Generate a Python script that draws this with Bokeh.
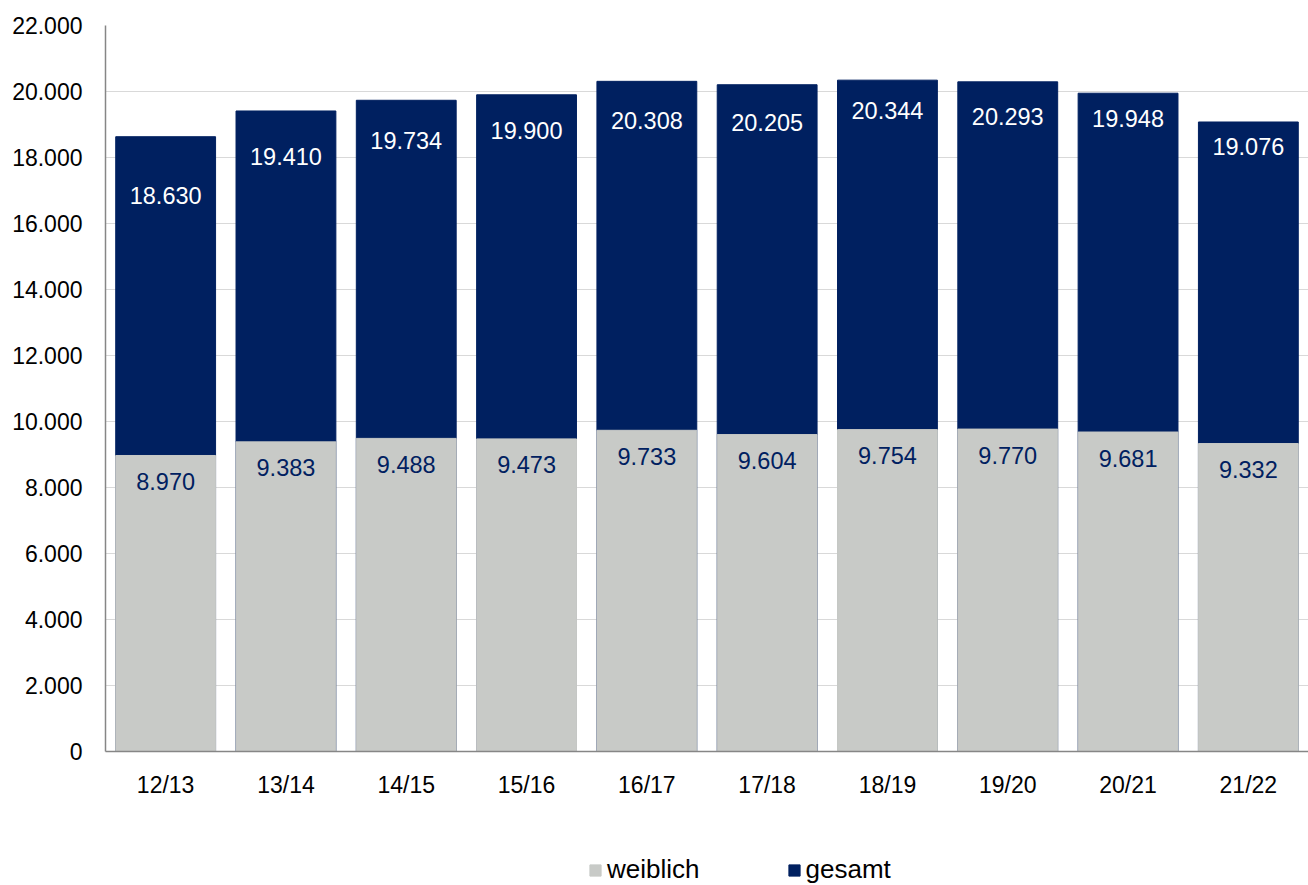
from bokeh.plotting import figure
from bokeh.models import ColumnDataSource, FactorRange, Legend, LegendItem, FixedTicker, Range1d
from bokeh.layouts import column
from bokeh.core.properties import value
from bokeh.embed import file_html
from bokeh.resources import INLINE

# --- data ---
years = ["12/13", "13/14", "14/15", "15/16", "16/17", "17/18", "18/19", "19/20", "20/21", "21/22"]
gesamt = [18630, 19410, 19734, 19900, 20308, 20205, 20344, 20293, 19948, 19076]
weiblich = [8970, 9383, 9488, 9473, 9733, 9604, 9754, 9770, 9681, 9332]
series_names = ["weiblich", "gesamt"]
y_ticks = list(range(0, 22001, 2000))

# --- styling ---
NAVY = "#002060"
GREY = "#C8CAC7"
FONT = "Liberation Sans"
gesamt_label_dy = [59, 46, 40, 36, 39, 38, 30, 35, 25, 25]  # px below bar top


def de(n):
    return f"{n:,}".replace(",", ".")


src = ColumnDataSource(dict(
    x=years, g=gesamt, w=weiblich,
    gl=[de(v) for v in gesamt], wl=[de(v) for v in weiblich],
    gdy=gesamt_label_dy, wdy=[26] * len(years),
))

p = figure(x_range=FactorRange(*years, range_padding=0), y_range=(0, 22000),
           width=1308, height=805, output_backend="svg", toolbar_location=None,
           min_border_left=105, min_border_right=0, min_border_top=25, min_border_bottom=54)
p.outline_line_color = None
p.background_fill_color = "white"

rg = p.vbar(x="x", top="g", width=0.83, source=src, fill_color=NAVY, line_color=NAVY)
rw = p.vbar(x="x", top="w", width=0.83, source=src, fill_color=GREY, line_color=GREY)

p.text(x="x", y="g", text="gl", y_offset="gdy", source=src, text_color="white",
       text_align="center", text_baseline="middle", text_font_size="23.5px", text_font=value(FONT))
p.text(x="x", y="w", text="wl", y_offset="wdy", source=src, text_color=NAVY,
       text_align="center", text_baseline="middle", text_font_size="23.5px", text_font=value(FONT))

p.xgrid.grid_line_color = None
p.ygrid.grid_line_color = "#D9D9D9"
p.ygrid.grid_line_width = 1
p.ygrid.ticker = FixedTicker(ticks=y_ticks)

p.yaxis.ticker = FixedTicker(ticks=y_ticks)
p.yaxis.major_label_overrides = {t: de(t) for t in y_ticks}
for ax in (p.xaxis, p.yaxis):
    ax.axis_line_color = "#868686"
    ax.axis_line_width = 1.5
    ax.major_tick_line_color = None
    ax.minor_tick_line_color = None
    ax.major_label_text_font = FONT
    ax.major_label_text_font_size = "23px"
    ax.major_label_text_color = "black"
p.yaxis.major_label_standoff = 17
p.xaxis.major_label_standoff = 14

# --- legend strip below the chart ---
lf = figure(width=1308, height=80, output_backend="svg", toolbar_location=None,
            x_range=Range1d(0, 1), y_range=Range1d(0, 1),
            x_axis_type=None, y_axis_type=None,
            min_border_left=0, min_border_right=0, min_border_top=0, min_border_bottom=0)
lf.outline_line_color = None
lf.xgrid.grid_line_color = None
lf.ygrid.grid_line_color = None
# swatch-only renderers (their single row lies outside the visible range)
swatch = ColumnDataSource(dict(x=[5], top=[5]))
lw = lf.vbar(x="x", top="top", width=0.1, source=swatch, fill_color=GREY, line_color=GREY)
lg = lf.vbar(x="x", top="top", width=0.1, source=swatch, fill_color=NAVY, line_color=NAVY)

legend = Legend(items=[LegendItem(label=series_names[0], renderers=[lw]),
                       LegendItem(label=series_names[1], renderers=[lg])],
                orientation="horizontal", location=(483, 0))
legend.glyph_width = 14
legend.glyph_height = 14
legend.label_standoff = 5
legend.spacing = 87
legend.padding = 0
legend.margin = 0
legend.border_line_color = None
legend.background_fill_alpha = 0
legend.label_text_font = FONT
legend.label_text_font_size = "26px"
legend.label_text_color = "black"
lf.add_layout(legend, "center")

open("out.html", "w").write(file_html(column(p, lf, spacing=0), INLINE))
